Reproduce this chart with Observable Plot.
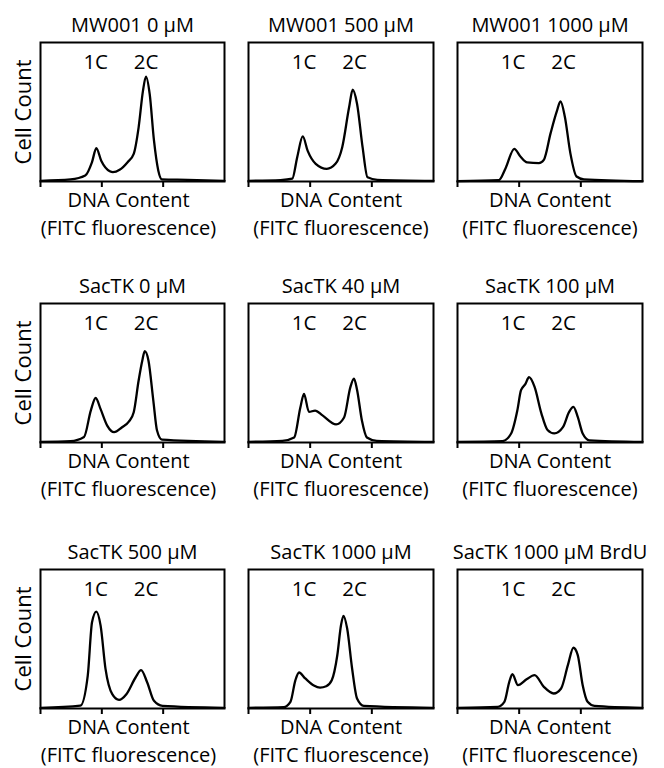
<!DOCTYPE html>
<html>
<head>
<meta charset="utf-8">
<script src="https://cdn.jsdelivr.net/npm/d3@7"></script>
<script src="https://cdn.jsdelivr.net/npm/@observablehq/plot@0.6"></script>
<style>
  html, body { margin: 0; padding: 0; background: #fff; }
  #chart { position: relative; width: 664px; height: 768px; overflow: hidden; }
  #chart svg { position: absolute; overflow: visible; }
  #chart g[aria-label="x-axis tick"] { stroke-width: 2; }
  #chart g[aria-label="x-axis tick"] path { stroke-width: 2; }
  #chart g[aria-label="x-axis"] line { stroke-width: 2; }
  #chart g[aria-label="x-axis"] path.domain { display: none; }
</style>
</head>
<body>
<div id="chart"></div>
<script>
// ---- Data ----
const titles = ["MW001 0 \u03bcM", "MW001 500 \u03bcM", "MW001 1000 \u03bcM",
                "SacTK 0 \u03bcM", "SacTK 40 \u03bcM", "SacTK 100 \u03bcM",
                "SacTK 500 \u03bcM", "SacTK 1000 \u03bcM", "SacTK 1000 \u03bcM BrdU"];
const peakLabels = ["1C", "2C"];
const peakLabelX = [0.9, 1.72];
const xTicks = [0, 1, 2];
const xLabel1 = "DNA Content";
const xLabel2 = "(FITC fluorescence)";
const yLabel = "Cell Count";

// MW001 0 uM
const mw001_0_x = [0, 0.49, 0.73, 0.84, 0.91, 0.99, 1.13, 1.18, 1.29, 1.42, 1.52, 1.60, 1.67, 1.72, 1.78, 1.85, 1.92, 1.98, 2.4, 3];
const mw001_0_y = [0.5, 1.5, 4.3, 14, 24, 15, 7.4, 6.7, 8.4, 13.9, 19.9, 39, 65, 75.5, 63, 29.5, 8, 1.5, 1.2, 0.5];
// MW001 500 uM
const mw001_500_x = [0, 0.52, 0.71, 0.79, 0.88, 0.96, 1.09, 1.27, 1.41, 1.52, 1.63, 1.69, 1.76, 1.85, 1.93, 2.09, 3];
const mw001_500_y = [0.5, 1, 2, 17.5, 32.4, 22, 12.7, 9.1, 12.7, 24.7, 53, 66, 56, 24.7, 3, 1.2, 0.5];
// MW001 1000 uM
const mw001_1000_x = [0, 0.67, 0.78, 0.92, 1.02, 1.13, 1.32, 1.40, 1.51, 1.61, 1.67, 1.74, 1.83, 1.93, 2.05, 3];
const mw001_1000_y = [0.3, 1, 9.6, 23.5, 18, 13.7, 13.2, 15.6, 34.8, 50.4, 57.6, 46.8, 20.4, 3.6, 1.6, 0.3];
// SacTK 0 uM
const sactk_0_x = [0, 0.49, 0.71, 0.82, 0.90, 0.98, 1.09, 1.20, 1.33, 1.44, 1.52, 1.60, 1.66, 1.70, 1.76, 1.84, 1.90, 1.98, 3];
const sactk_0_y = [0.5, 1, 4, 23, 32, 24, 12, 7.4, 11, 15, 21.8, 44.6, 59, 65.7, 59, 30, 8.6, 2, 0.5];
// SacTK 40 uM
const sactk_40_x = [0, 0.55, 0.74, 0.84, 0.90, 0.98, 1.08, 1.20, 1.42, 1.55, 1.65, 1.71, 1.76, 1.84, 1.92, 2.08, 3];
const sactk_40_y = [0.5, 1.2, 3.6, 25, 35, 22, 23, 19.5, 13, 18, 39.5, 46, 38, 15.6, 3.6, 1.2, 0.5];
// SacTK 100 uM
const sactk_100_x = [0, 0.73, 0.87, 0.97, 1.03, 1.10, 1.16, 1.25, 1.36, 1.46, 1.57, 1.71, 1.81, 1.88, 1.95, 2.03, 2.14, 3];
const sactk_100_y = [0.5, 1, 6.5, 23, 37.6, 42, 47, 40, 21, 9, 6.5, 11, 22, 25.6, 18.4, 6.5, 1.6, 0.5];
// SacTK 500 uM
const sactk_500_x = [0, 0.65, 0.77, 0.84, 0.91, 0.98, 1.06, 1.17, 1.28, 1.40, 1.55, 1.64, 1.74, 1.85, 1.99, 3];
const sactk_500_y = [0.5, 2, 23.5, 62, 69.7, 59.6, 28.5, 10.3, 6.2, 10.3, 22.3, 27.6, 18.7, 5.5, 1.9, 0.5];
// SacTK 1000 uM
const sactk_1000_x = [0, 0.57, 0.68, 0.76, 0.82, 0.92, 1.06, 1.16, 1.26, 1.35, 1.44, 1.50, 1.54, 1.60, 1.68, 1.76, 1.87, 3];
const sactk_1000_y = [0.5, 1, 4.8, 20.3, 25.9, 21.6, 16.5, 15, 16, 20.3, 38.3, 59.9, 66.7, 57.5, 28.8, 7.2, 1.9, 0.5];
// SacTK 1000 uM BrdU
const sactk_brdu_x = [0, 0.65, 0.76, 0.84, 0.89, 0.98, 1.12, 1.25, 1.40, 1.56, 1.68, 1.79, 1.88, 1.95, 2.03, 2.11, 2.22, 3];
const sactk_brdu_y = [0.5, 1.2, 4.8, 19.2, 24.7, 16.8, 21, 24, 15.6, 10.8, 14.4, 31.2, 43.7, 38.4, 16.8, 4.8, 1.9, 0.5];

const seriesX = [mw001_0_x, mw001_500_x, mw001_1000_x, sactk_0_x, sactk_40_x, sactk_100_x, sactk_500_x, sactk_1000_x, sactk_brdu_x];
const seriesY = [mw001_0_y, mw001_500_y, mw001_1000_y, sactk_0_y, sactk_40_y, sactk_100_y, sactk_500_y, sactk_1000_y, sactk_brdu_y];

// ---- Layout ----
const colLeft = [40, 248, 457], colRight = [224, 433, 642];
const rowTop = [42, 303, 569], rowBottom = [181, 442, 708];
const mL = 40, mR = 30, mT = 40, mB = 62;
const FONT = "'Open Sans', 'Noto Sans', sans-serif";

const chart = document.getElementById("chart");
const labelData = peakLabels.map((t, i) => ({t, x: peakLabelX[i]}));

titles.forEach((title, k) => {
  const c = k % 3, r = Math.floor(k / 3);
  const data = seriesX[k].map((x, i) => ({x, y: seriesY[k][i]}));
  const fw = colRight[c] - colLeft[c], fh = rowBottom[r] - rowTop[r];
  const lx = c === 0 ? -4 : 0;
  const marks = [
    Plot.line(data, {x: "x", y: "y", curve: "monotone-x", stroke: "black", strokeWidth: 2.3, strokeLinejoin: "round"}),
    Plot.frame({stroke: "black", strokeWidth: 2}),
    Plot.text([title], {frameAnchor: "top", lineAnchor: "middle", textAnchor: "middle", dy: -17, fontSize: 20, fill: "black"}),
    Plot.text(labelData, {x: "x", text: "t", frameAnchor: "top", lineAnchor: "middle", textAnchor: "middle", dy: 20, fontSize: 20.5, fill: "black"}),
    Plot.text([xLabel1], {frameAnchor: "bottom", lineAnchor: "middle", textAnchor: "middle", dx: lx, dy: 19.5, fontSize: 20, fill: "black"}),
    Plot.text([xLabel2], {frameAnchor: "bottom", lineAnchor: "middle", textAnchor: "middle", dx: lx, dy: 47, fontSize: 20, fill: "black"})
  ];
  if (c === 0) {
    marks.push(Plot.text([yLabel], {frameAnchor: "left", lineAnchor: "middle", textAnchor: "middle", dx: -17, rotate: -90, fontSize: 22, fill: "black"}));
  }
  const svg = Plot.plot({
    width: fw + mL + mR,
    height: fh + mT + mB,
    marginLeft: mL, marginRight: mR, marginTop: mT, marginBottom: mB,
    x: {domain: [0, 3], ticks: xTicks, tickSize: 6, tickFormat: () => "", label: null},
    y: {domain: [0, 100], axis: null},
    style: {background: "transparent", fontFamily: FONT, color: "black", overflow: "visible"},
    marks
  });
  svg.style.left = (colLeft[c] - mL) + "px";
  svg.style.top = (rowTop[r] - mT) + "px";
  chart.appendChild(svg);
});
</script>
</body>
</html>
